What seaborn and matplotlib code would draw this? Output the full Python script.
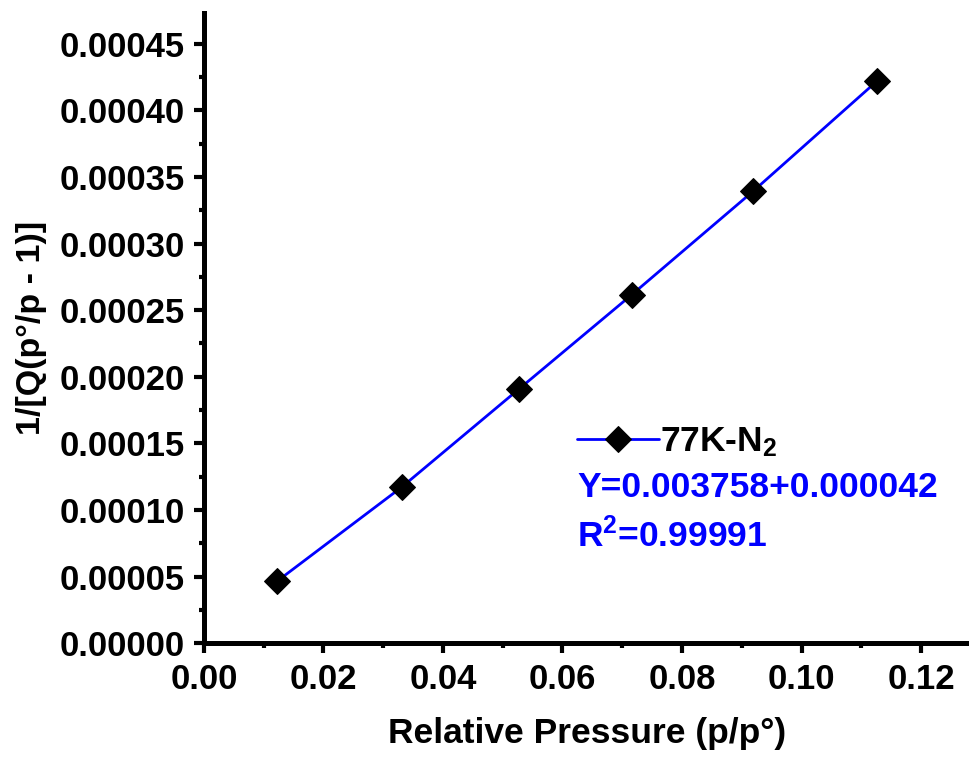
import numpy as np
import pandas as pd
import matplotlib
matplotlib.use("Agg")
import matplotlib.pyplot as plt
from matplotlib.ticker import MultipleLocator, FormatStrFormatter
import seaborn as sns

rel_pressure = [0.0123, 0.0331, 0.0527, 0.0716, 0.0919, 0.1126]
bet_value = [0.0000469, 0.0001173, 0.0001908, 0.0002616, 0.0003392, 0.0004217]
series_name = "77K-N$_2$"
fit_text = "Y=0.003758+0.000042"
r2_text = "R$^2$=0.99991"

sns.set_style("ticks")
plt.rcParams['font.family'] = ['Liberation Sans', 'DejaVu Sans']
plt.rcParams['font.weight'] = 'bold'
plt.rcParams['mathtext.fontset'] = 'custom'
plt.rcParams['mathtext.rm'] = 'Liberation Sans:bold'
plt.rcParams['mathtext.it'] = 'Liberation Sans:bold'
plt.rcParams['mathtext.bf'] = 'Liberation Sans:bold'
for k in ['text.color', 'axes.labelcolor', 'xtick.color', 'ytick.color', 'axes.edgecolor']:
    plt.rcParams[k] = 'black'

df = pd.DataFrame({'p': rel_pressure, 'v': bet_value})

fig = plt.figure(figsize=(9.7, 7.57), dpi=100)
ax = fig.add_axes([0.2103, 0.150, 1.0 - 0.2103, 0.983 - 0.150])

sns.lineplot(data=df, x='p', y='v', ax=ax, color='blue', linewidth=2,
             marker='D', markersize=13.5, markerfacecolor='black',
             markeredgecolor='black', label=series_name)

ax.set_xlim(0, 0.1282)
ax.set_ylim(0, 0.000473)
ax.xaxis.set_major_locator(MultipleLocator(0.02))
ax.xaxis.set_minor_locator(MultipleLocator(0.01))
ax.yaxis.set_major_locator(MultipleLocator(0.00005))
ax.yaxis.set_minor_locator(MultipleLocator(0.000025))
ax.xaxis.set_major_formatter(FormatStrFormatter('%.2f'))
ax.yaxis.set_major_formatter(FormatStrFormatter('%.5f'))

sns.despine(ax=ax)
for s in ['left', 'bottom']:
    ax.spines[s].set_linewidth(3.6)
ax.tick_params(which='major', length=7, width=3, labelsize=25, pad=7, direction='out')
ax.tick_params(which='minor', length=3.5, width=3, direction='out')

ax.set_xlabel("Relative Pressure (p/p°)", fontsize=25.5, fontweight='bold', labelpad=15)
ax.set_ylabel("1/[Q(p°/p - 1)]", fontsize=24.5, fontweight='bold', labelpad=9)

leg = ax.legend(loc='center left', bbox_to_anchor=(0.595, 0.416),
                bbox_transform=fig.transFigure, frameon=False, fontsize=25.5,
                handlelength=2.3, handletextpad=0.05, borderpad=0, borderaxespad=0)

fig.text(0.595, 0.3435, fit_text, color='blue', fontsize=25.5, fontweight='bold', va='baseline')
fig.text(0.595, 0.2774, r2_text, color='blue', fontsize=25.5, fontweight='bold', va='baseline')

fig.savefig("out.png", dpi=100)
